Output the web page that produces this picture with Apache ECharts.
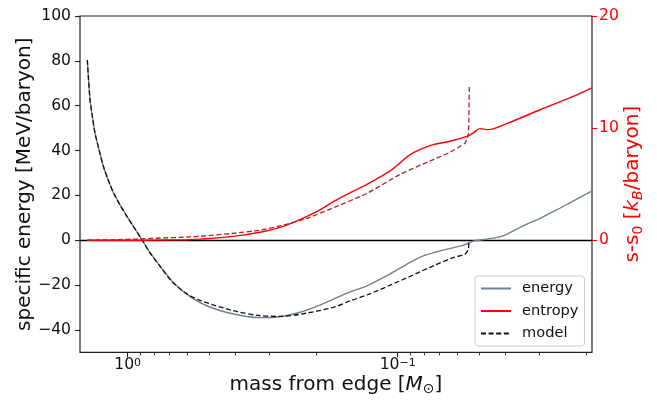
<!DOCTYPE html>
<html><head><meta charset="utf-8">
<script src="https://cdn.jsdelivr.net/npm/echarts@6/dist/echarts.min.js"></script>
<style>html,body{margin:0;padding:0;background:#fff}#c{width:657px;height:401px}</style>
</head><body><div id="c"></div>
<script>
// ---- data (mass from edge in solar masses) ----
const energyMass = [1.411, 1.379, 1.352, 1.322, 1.277, 1.231, 1.180, 1.131, 1.068, 1.009, 0.953, 0.887, 0.827, 0.759, 0.687, 0.605, 0.510, 0.406, 0.324, 0.273, 0.230, 0.194, 0.173, 0.150, 0.130, 0.107, 0.0926, 0.0804, 0.0697, 0.0571, 0.0525, 0.0468, 0.0418, 0.0395, 0.0343, 0.0297, 0.0258, 0.0224, 0.0191];
const energyValues = [80.4, 62.7, 55.3, 47.9, 40.4, 33.0, 26.8, 21.4, 15.8, 10.9, 6.2, 0.4, -5.5, -11.4, -18.0, -24.0, -29.2, -32.9, -34.5, -34.1, -32.1, -28.9, -26.2, -23.0, -20.3, -15.1, -10.7, -7.0, -4.7, -2.2, -0.4, 0.5, 1.5, 2.6, 6.4, 9.8, 13.5, 17.5, 21.9];

const modelEnergyMass = [1.411, 1.379, 1.352, 1.322, 1.277, 1.231, 1.180, 1.131, 1.068, 1.009, 0.953, 0.887, 0.827, 0.759, 0.687, 0.605, 0.540, 0.406, 0.324, 0.273, 0.230, 0.173, 0.150, 0.130, 0.098, 0.0738, 0.0622, 0.0563, 0.0548, 0.0545, 0.0543];
const modelEnergyValues = [80.4, 62.7, 55.3, 47.9, 40.4, 33.0, 26.8, 21.4, 15.8, 10.9, 6.2, 0.4, -5.6, -11.6, -18.3, -23.8, -26.8, -31.4, -33.6, -33.9, -33.0, -29.9, -27.0, -24.4, -18.1, -11.4, -7.7, -6.2, -4.0, -1.5, -0.3];

const entropyMass = [1.411, 1.131, 1.009, 0.887, 0.759, 0.605, 0.540, 0.406, 0.324, 0.273, 0.230, 0.194, 0.173, 0.150, 0.130, 0.107, 0.098, 0.090, 0.0827, 0.0738, 0.0640, 0.0555, 0.0525, 0.0496, 0.0462, 0.0395, 0.0297, 0.0224, 0.0191];
const entropyValues = [0, 0, 0, 0, 0.02, 0.05, 0.1, 0.35, 0.72, 1.15, 1.85, 2.7, 3.45, 4.24, 4.98, 6.16, 6.9, 7.64, 8.09, 8.53, 8.83, 9.27, 9.57, 9.96, 9.87, 10.4, 11.64, 12.83, 13.6];

const modelEntropyMass = [1.411, 1.131, 0.887, 0.759, 0.605, 0.540, 0.406, 0.324, 0.265, 0.217, 0.173, 0.130, 0.098, 0.0738, 0.064, 0.0563, 0.0548, 0.0545, 0.0543];
const modelEntropyValues = [0.0, 0.05, 0.12, 0.2, 0.28, 0.35, 0.62, 0.9, 1.35, 1.95, 2.9, 4.18, 5.87, 7.2, 7.85, 8.68, 9.42, 10.76, 13.87];

// ---- axes / ticks ----
const xMin = 0.01907, xMax = 1.502;
const xMajorTicks = [1, 0.1];
const xMajorExponents = ['0', '\u22121'];
const xMinorTicks = [0.9, 0.8, 0.7, 0.6, 0.5, 0.4, 0.3, 0.2, 0.09, 0.08, 0.07, 0.06, 0.05, 0.04, 0.03, 0.02];
const yLeftTicks = [-40, -20, 0, 20, 40, 60, 80, 100];
const yRightTicks = [0, 10, 20];

const zip = (a, b) => a.map((v, i) => [v, b[i]]);
const FONT = 'DejaVu Sans';
const TXT = '#111';

const chart = echarts.init(document.getElementById('c'), null, {renderer: 'canvas'});
const lx = v => Math.log10(v);

const option = {
  animation: false,
  textStyle: {fontFamily: FONT},
  grid: {left: 80, right: 65, top: 16, bottom: 48.6, show: true, borderColor: '#222', borderWidth: 1.2, backgroundColor: 'transparent', outerBoundsMode: 'none'},
  legend: {
    orient: 'vertical', left: 475, top: 276,
    data: ['energy', 'entropy', 'model'],
    itemWidth: 30, itemHeight: 14, itemGap: 7.5,
    padding: [5, 6, 5, 5],
    borderColor: '#ccc', borderWidth: 1, borderRadius: 3,
    backgroundColor: 'rgba(255,255,255,0.85)',
    itemStyle: {opacity: 0},
    textStyle: {fontFamily: FONT, fontSize: 14.6, color: TXT, padding: [0, 0, 0, 6]}
  },
  xAxis: [
    {type: 'log', logBase: 10, min: xMin, max: xMax, inverse: true, show: false, position: 'bottom'},
    {type: 'value', min: lx(xMin), max: lx(xMax), inverse: true, position: 'bottom',
     axisLine: {show: false, onZero: false}, splitLine: {show: false},
     axisTick: {show: true, length: 5, customValues: xMajorTicks.map(lx), lineStyle: {color: '#222', width: 1.1}},
     axisLabel: {customValues: xMajorTicks.map(lx), margin: 5,
       formatter: v => { const i = xMajorTicks.findIndex(t => Math.abs(lx(t) - v) < 1e-6); return '{b|10}{e|' + xMajorExponents[i] + '}'; },
       rich: {b: {fontSize: 15.6, color: TXT, fontFamily: FONT, lineHeight: 16, verticalAlign: 'bottom'},
              e: {fontSize: 11, color: TXT, fontFamily: FONT, lineHeight: 11, verticalAlign: 'top'}}},
     name: 'mass from edge [{i|M}{s|\u2299}]', nameLocation: 'middle', nameGap: 20, nameMoveOverlap: false,
     nameTextStyle: {fontSize: 20, color: TXT, fontFamily: FONT, lineHeight: 24,
       rich: {i: {fontSize: 20, fontStyle: 'italic', color: TXT, fontFamily: FONT, lineHeight: 24},
              s: {fontSize: 14, color: TXT, fontFamily: FONT, lineHeight: 16, verticalAlign: 'bottom'}}}},
    {type: 'value', min: lx(xMin), max: lx(xMax), inverse: true, position: 'bottom',
     axisLine: {show: false, onZero: false}, splitLine: {show: false},
     axisTick: {show: true, length: 3, customValues: xMinorTicks.map(lx), lineStyle: {color: '#222', width: 0.9}},
     axisLabel: {show: false}}
  ],
  yAxis: [
    {type: 'value', min: -50, max: 100, position: 'left',
     axisLine: {show: false, onZero: false}, splitLine: {show: false},
     axisTick: {show: true, length: 5, customValues: yLeftTicks, lineStyle: {color: '#222', width: 1.1}},
     axisLabel: {customValues: yLeftTicks, fontSize: 15.6, color: TXT, margin: 9, fontFamily: FONT,
       formatter: v => (v < 0 ? '\u2212' + Math.abs(v) : String(v))},
     name: 'specific energy [MeV/baryon]', nameLocation: 'middle', nameGap: 43, nameRotate: 90, nameMoveOverlap: false,
     nameTextStyle: {fontSize: 20, color: TXT, fontFamily: FONT, lineHeight: 24}},
    {type: 'value', min: -10, max: 20, position: 'right',
     axisLine: {show: false, onZero: false}, splitLine: {show: false},
     axisTick: {show: true, length: 5, customValues: yRightTicks, lineStyle: {color: '#ff0000', width: 1.1}},
     axisLabel: {customValues: yRightTicks, fontSize: 15.6, color: '#ff0000', margin: 7, fontFamily: FONT},
     name: 's-s{s|0} [{i|k}{is|B}/baryon]', nameLocation: 'middle', nameGap: 29, nameRotate: 90, nameMoveOverlap: false,
     nameTextStyle: {fontSize: 20, color: '#ff0000', fontFamily: FONT, lineHeight: 24,
       rich: {s: {fontSize: 14, color: '#ff0000', fontFamily: FONT, lineHeight: 16, verticalAlign: 'bottom'},
              i: {fontSize: 20, fontStyle: 'italic', color: '#ff0000', fontFamily: FONT, lineHeight: 24},
              is: {fontSize: 14, fontStyle: 'italic', color: '#ff0000', fontFamily: FONT, lineHeight: 16, verticalAlign: 'bottom'}}}}
  ],
  series: [
    {name: 'energy', type: 'line', xAxisIndex: 0, yAxisIndex: 0, data: zip(energyMass, energyValues),
     symbol: 'none', smooth: 0.3, z: 2,
     lineStyle: {color: '#708090', width: 1.4}, itemStyle: {color: '#708090'},
     markLine: {silent: true, symbol: 'none', z: 1, label: {show: false}, animation: false,
       lineStyle: {color: '#000', width: 1.4, type: 'solid'}, data: [{yAxis: 0}]}},
    {name: 'model', type: 'line', xAxisIndex: 0, yAxisIndex: 0, data: zip(modelEnergyMass, modelEnergyValues),
     symbol: 'none', smooth: 0.3, z: 3,
     lineStyle: {color: '#111', width: 1.3, type: [5, 2.6]}, itemStyle: {color: '#111'}},
    {name: 'entropy', type: 'line', xAxisIndex: 0, yAxisIndex: 1, data: zip(entropyMass, entropyValues),
     symbol: 'none', smooth: 0.3, z: 4,
     lineStyle: {color: '#ff0000', width: 1.4}, itemStyle: {color: '#ff0000'}},
    {name: 'model entropy', type: 'line', xAxisIndex: 0, yAxisIndex: 1, data: zip(modelEntropyMass, modelEntropyValues),
     symbol: 'none', smooth: 0.2, z: 5,
     lineStyle: {color: '#b22222', width: 1.3, type: [5, 2.6]}, itemStyle: {color: '#b22222'}}
  ]
};
chart.setOption(option);
</script></body></html>
